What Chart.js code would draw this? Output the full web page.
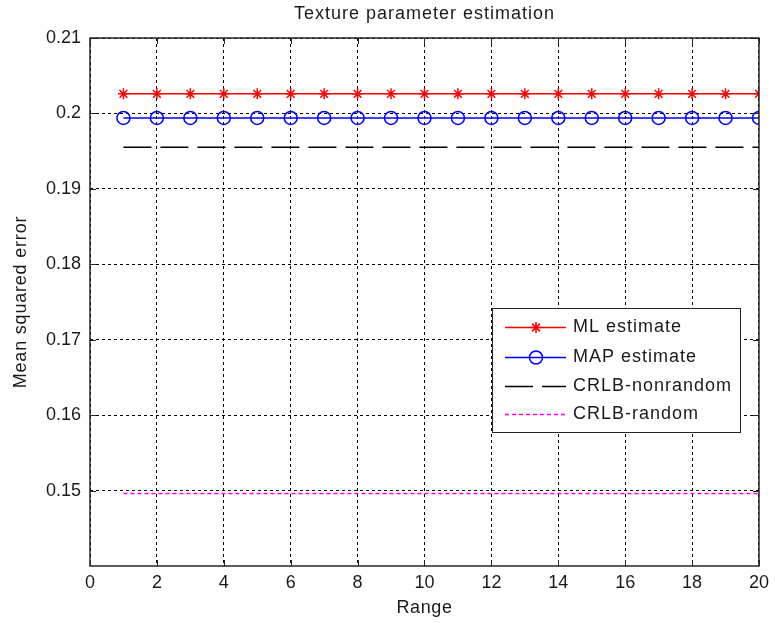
<!DOCTYPE html>
<html>
<head>
<meta charset="utf-8">
<script src="https://cdn.jsdelivr.net/npm/chart.js@4"></script>
<style>
  html, body { margin: 0; padding: 0; background: #fff; }
  #wrap { width: 775px; height: 623px; }
</style>
</head>
<body>
<div id="wrap"><canvas id="chart" width="775" height="623"></canvas></div>
<script>
// ===== DATA =====
const ranges = [1, 2, 3, 4, 5, 6, 7, 8, 9, 10, 11, 12, 13, 14, 15, 16, 17, 18, 19, 20];
const mlEstimate = [0.2026, 0.2026, 0.2026, 0.2026, 0.2026, 0.2026, 0.2026, 0.2026, 0.2026, 0.2026,
                    0.2026, 0.2026, 0.2026, 0.2026, 0.2026, 0.2026, 0.2026, 0.2026, 0.2026, 0.2026];
const mapEstimate = [0.1994, 0.1994, 0.1994, 0.1994, 0.1994, 0.1994, 0.1994, 0.1994, 0.1994, 0.1994,
                     0.1994, 0.1994, 0.1994, 0.1994, 0.1994, 0.1994, 0.1994, 0.1994, 0.1994, 0.1994];
const crlbNonrandom = [0.1955, 0.1955, 0.1955, 0.1955, 0.1955, 0.1955, 0.1955, 0.1955, 0.1955, 0.1955,
                       0.1955, 0.1955, 0.1955, 0.1955, 0.1955, 0.1955, 0.1955, 0.1955, 0.1955, 0.1955];
const crlbRandom = [0.1496, 0.1496, 0.1496, 0.1496, 0.1496, 0.1496, 0.1496, 0.1496, 0.1496, 0.1496,
                    0.1496, 0.1496, 0.1496, 0.1496, 0.1496, 0.1496, 0.1496, 0.1496, 0.1496, 0.1496];
const seriesNames = ["ML estimate", "MAP estimate", "CRLB-nonrandom", "CRLB-random"];
const xTicks = [0, 2, 4, 6, 8, 10, 12, 14, 16, 18, 20];
const yTicks = [0.15, 0.16, 0.17, 0.18, 0.19, 0.2, 0.21];

const FONT = "Liberation Sans, Arial, sans-serif";
const TXT = "#1a1a1a";

function toPoints(ys) {
    return ranges.map((x, i) => ({ x: x, y: ys[i] }));
}

const styles = [
    { color: "#ff0000", dash: [], point: "star", r: 5.5 },
    { color: "#0000ff", dash: [], point: "circle", r: 6.5 },
    { color: "#000000", dash: [28, 9], point: false, r: 0 },
    { color: "#ff00ff", dash: [4, 3], point: false, r: 0 }
];

function spacedText(ctx, text, x, y, spacing) {
    ctx.letterSpacing = spacing + "px";
    ctx.fillText(text, x, y);
    ctx.letterSpacing = "0px";
}

// ===== FRAME, TICKS, TITLES, LEGEND =====
const matlabAxes = {
    id: "matlabAxes",
    afterDatasetsDraw(chart) {
        const ctx = chart.ctx;
        const a = chart.chartArea;
        const xs = chart.scales.x, ys = chart.scales.y;
        ctx.save();
        ctx.setLineDash([]);
        ctx.strokeStyle = "#262626";
        ctx.lineWidth = 1.5;
        ctx.strokeRect(a.left, a.top, a.right - a.left, a.bottom - a.top);
        ctx.lineWidth = 1;
        ctx.beginPath();
        xTicks.forEach(v => {
            const px = Math.round(xs.getPixelForValue(v)) + 0.5;
            ctx.moveTo(px, a.bottom); ctx.lineTo(px, a.bottom - 6);
            ctx.moveTo(px, a.top); ctx.lineTo(px, a.top + 6);
        });
        yTicks.forEach(v => {
            const py = Math.round(ys.getPixelForValue(v)) + 0.5;
            ctx.moveTo(a.left, py); ctx.lineTo(a.left + 6, py);
            ctx.moveTo(a.right, py); ctx.lineTo(a.right - 6, py);
        });
        ctx.stroke();

        // titles
        const cx = (a.left + a.right) / 2;
        const cy = (a.top + a.bottom) / 2;
        ctx.fillStyle = TXT;
        ctx.font = "18px " + FONT;
        ctx.textAlign = "center";
        ctx.textBaseline = "middle";
        spacedText(ctx, "Texture parameter estimation", cx, 14, 1);
        spacedText(ctx, "Range", cx, 608, 0.6);
        ctx.save();
        ctx.translate(21, cy);
        ctx.rotate(-Math.PI / 2);
        spacedText(ctx, "Mean squared error", 0, 0, 0.8);
        ctx.restore();

        // legend
        const lx = 492.5, ly = 308.5, lw = 248, lh = 124;
        ctx.fillStyle = "#ffffff";
        ctx.fillRect(lx, ly, lw, lh);
        ctx.strokeStyle = "#262626";
        ctx.lineWidth = 1;
        ctx.strokeRect(lx, ly, lw, lh);
        const rows = [327, 357, 386, 414];
        ctx.textAlign = "left";
        seriesNames.forEach((name, i) => {
            const s = styles[i];
            const y = rows[i] + 0.5;
            ctx.strokeStyle = s.color;
            ctx.lineWidth = 1.5;
            ctx.setLineDash(s.dash);
            ctx.beginPath();
            ctx.moveTo(505, y); ctx.lineTo(566, y);
            ctx.stroke();
            ctx.setLineDash([]);
            if (s.point) {
                ctx.fillStyle = "rgba(0,0,0,0)";
                ctx.strokeStyle = s.color;
                Chart.helpers.drawPoint(ctx, {
                    pointStyle: s.point, radius: s.r, borderWidth: 1.5
                }, 536, y);
            }
            ctx.fillStyle = TXT;
            spacedText(ctx, name, 573, y, 1);
        });
        ctx.restore();
    }
};

new Chart(document.getElementById("chart").getContext("2d"), {
    type: "line",
    data: {
        datasets: [mlEstimate, mapEstimate, crlbNonrandom, crlbRandom].map((vals, i) => ({
            label: seriesNames[i],
            data: toPoints(vals),
            borderColor: styles[i].color,
            backgroundColor: "rgba(0,0,0,0)",
            borderWidth: 1.5,
            borderDash: styles[i].dash,
            pointStyle: styles[i].point || "circle",
            pointRadius: styles[i].r,
            pointBorderWidth: 1.5,
            pointBorderColor: styles[i].color,
            pointBackgroundColor: "rgba(0,0,0,0)",
            fill: false,
            tension: 0
        }))
    },
    options: {
        responsive: false,
        animation: false,
        layout: { padding: { top: 38, right: 15, left: 0, bottom: 0 } },
        plugins: {
            legend: { display: false },
            tooltip: { enabled: false },
            title: { display: false }
        },
        scales: {
            x: {
                type: "linear",
                min: 0, max: 20,
                afterFit(scale) { scale.height = 57; },
                afterBuildTicks(scale) { scale.ticks = xTicks.map(v => ({ value: v })); },
                grid: { color: "#000000", lineWidth: 1, drawTicks: false },
                border: { display: false, dash: [3, 3] },
                ticks: { color: TXT, font: { family: FONT, size: 18 }, padding: 6, maxRotation: 0 }
            },
            y: {
                type: "linear",
                min: 0.14, max: 0.21,
                afterFit(scale) { scale.width = 90; },
                afterBuildTicks(scale) { scale.ticks = yTicks.map(v => ({ value: v })); },
                grid: { color: "#000000", lineWidth: 1, drawTicks: false },
                border: { display: false, dash: [3, 3] },
                ticks: {
                    color: TXT, font: { family: FONT, size: 18 }, padding: 9,
                    callback: v => String(+v.toFixed(2))
                }
            }
        }
    },
    plugins: [matlabAxes]
});
</script>
</body>
</html>
